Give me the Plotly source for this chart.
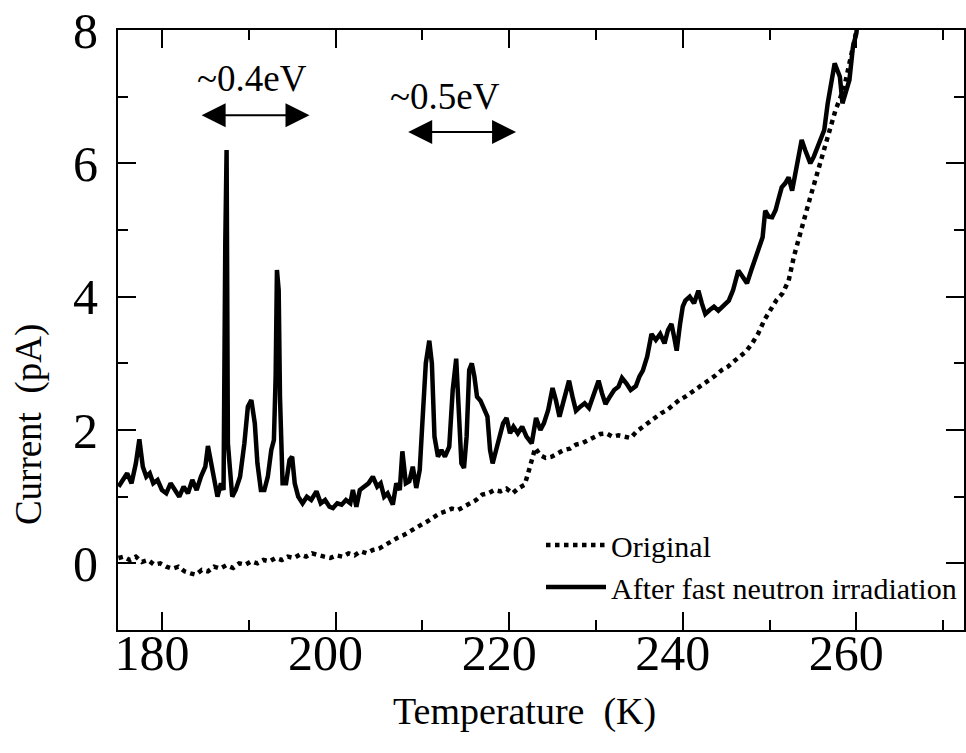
import plotly.graph_objects as go

# ---- data ----
after_T = [175.0, 175.5, 176.0, 176.5, 177.0, 177.4, 177.8, 178.2, 178.6, 179.0, 179.5, 180.0, 180.5, 181.0,
           181.5, 182.0, 182.5, 183.0, 183.5, 184.0, 184.5, 185.0, 185.3, 185.7, 186.0, 186.4, 186.8, 187.1,
           187.3, 187.45, 187.6, 187.8, 188.1, 188.5, 189.0, 189.5, 189.9, 190.3, 190.7, 191.0, 191.4, 191.8,
           192.2, 192.6, 192.9, 193.1, 193.25, 193.45, 193.6, 193.9, 194.3, 194.7, 195.0, 195.3, 195.7, 196.2,
           196.7, 197.2, 197.8, 198.3, 198.8, 199.3, 199.7, 200.2, 200.7, 201.2, 201.7, 202.0, 202.4, 202.8,
           203.3, 203.8, 204.3, 204.8, 205.2, 205.6, 206.0, 206.6, 207.0, 207.4, 207.7, 208.1, 208.5, 208.9,
           209.3, 209.7, 210.0, 210.4, 210.8, 211.1, 211.4, 211.8, 212.2, 212.6, 213.1, 213.5, 213.9, 214.2,
           214.5, 214.8, 215.1, 215.4, 215.7, 216.0, 216.3, 216.7, 217.1, 217.5, 217.8, 218.1, 218.5, 218.9,
           219.3, 219.7, 220.1, 220.5, 221.0, 221.5, 222.0, 222.6, 223.1, 223.6, 224.0, 224.5, 225.0, 225.4,
           225.8, 226.2, 226.6, 226.9, 227.3, 227.7, 228.2, 228.7, 229.2, 229.7, 230.3, 230.7, 231.1, 231.6,
           232.1, 232.6, 233.0, 233.5, 234.0, 234.6, 235.0, 235.4, 235.9, 236.4, 236.9, 237.4, 237.9, 238.3,
           238.7, 239.0, 239.3, 239.7, 240.0, 240.3, 240.8, 241.3, 241.8, 242.2, 242.6, 243.1, 243.6, 244.1,
           244.6, 245.3, 245.8, 246.4, 246.9, 247.4, 247.9, 248.4, 248.8, 249.2, 249.5, 249.9, 250.3, 250.7,
           251.0, 251.4, 251.8, 252.2, 252.6, 253.0, 253.4, 253.7, 254.1, 254.7, 255.1, 255.5, 255.9, 256.3,
           256.7, 257.1, 257.5, 257.8, 258.1, 258.4, 258.8, 259.2, 259.6, 260.0, 260.2]
after_I = [1.15, 1.25, 1.35, 1.2, 1.5, 1.86, 1.45, 1.3, 1.35, 1.2, 1.25, 1.1, 1.05, 1.2,
           1.1, 1.0, 1.15, 1.05, 1.25, 1.1, 1.3, 1.45, 1.76, 1.5, 1.3, 1.0, 1.2, 1.1,
           4.8, 6.2, 1.8, 1.5, 1.0, 1.1, 1.3, 1.8, 2.35, 2.45, 2.1, 1.5, 1.1, 1.1,
           1.3, 1.7, 1.85, 2.8, 4.4, 4.1, 2.5, 1.2, 1.2, 1.55, 1.6, 1.2, 1.0, 0.9,
           1.0, 0.95, 1.08, 0.9, 0.95, 0.85, 0.83, 0.9, 0.88, 0.95, 0.9, 1.1, 0.85, 1.1,
           1.15, 1.2, 1.3, 1.15, 1.2, 1.0, 1.05, 0.88, 1.2, 1.1, 1.68, 1.2, 1.23, 1.45,
           1.13, 1.4, 2.1, 3.0, 3.34, 3.0, 1.9, 1.6, 1.7, 1.6, 1.75, 2.6, 3.07, 2.4,
           1.5, 1.43, 1.9, 2.9, 3.0, 2.8, 2.5, 2.44, 2.3, 2.2, 1.7, 1.5, 1.7, 1.9,
           2.1, 2.18, 1.95, 2.05, 1.95, 2.05, 1.9, 1.8, 2.18, 2.0, 2.1, 2.3, 2.63, 2.44,
           2.2, 2.4, 2.6, 2.74, 2.5, 2.29, 2.35, 2.4, 2.33, 2.5, 2.74, 2.55, 2.39, 2.5,
           2.6, 2.65, 2.78, 2.7, 2.6, 2.66, 2.8, 2.89, 3.1, 3.44, 3.35, 3.44, 3.3, 3.5,
           3.59, 3.4, 3.19, 3.6, 3.85, 3.94, 4.0, 3.9, 4.09, 3.9, 3.74, 3.8, 3.85, 3.79,
           3.85, 3.94, 4.1, 4.39, 4.3, 4.2, 4.4, 4.59, 4.7, 4.89, 5.29, 5.2, 5.19, 5.3,
           5.45, 5.64, 5.7, 5.79, 5.59, 5.9, 6.2, 6.35, 6.2, 6.0, 6.1, 6.24, 6.35, 6.5,
           6.9, 7.25, 7.5, 7.4, 7.3, 6.9, 7.1, 7.25, 7.74, 7.95, 8.2]

orig_T = [175.0, 175.6, 176.3, 177.0, 177.7, 178.4, 179.1, 179.8, 180.5, 181.2, 181.9, 182.6, 183.3, 183.9,
          184.6, 185.3, 186.0, 186.7, 187.4, 188.2, 188.9, 189.6, 190.3, 191.0, 191.7, 192.4, 193.1, 193.8,
          194.5, 195.2, 195.9, 196.6, 197.3, 198.0, 198.7, 199.4, 200.1, 200.8, 201.5, 202.2, 202.9, 203.6,
          204.3, 205.0, 205.7, 206.4, 207.1, 207.8, 208.5, 209.2, 209.9, 210.6, 211.3, 212.0, 212.7, 213.4,
          214.1, 214.8, 215.5, 216.2, 216.9, 217.6, 218.3, 219.0, 219.7, 220.4, 221.1, 221.8, 222.4, 223.0,
          223.6, 224.2, 224.9, 225.6, 226.3, 227.0, 227.7, 228.4, 229.1, 229.8, 230.5, 231.2, 231.9, 232.6,
          233.3, 234.0, 234.7, 235.4, 236.1, 236.8, 237.5, 238.2, 238.9, 239.6, 240.3, 241.0, 241.7, 242.4,
          243.1, 243.8, 244.5, 245.2, 245.9, 246.6, 247.3, 248.0, 248.7, 249.4, 250.1, 250.8, 251.5, 252.2,
          252.8, 253.4, 254.0, 254.6, 255.2, 255.8, 256.4, 257.0, 257.6, 258.2, 258.7, 259.2, 259.7, 260.2]
orig_I = [0.08, 0.1, 0.05, 0.1, 0.02, 0.05, -0.02, 0.0, -0.05, -0.08, -0.05, -0.12, -0.15, -0.17,
          -0.1, -0.12, -0.05, -0.08, -0.03, -0.07, 0.0, -0.02, 0.03, 0.0, 0.05, 0.03, 0.08, 0.05,
          0.1, 0.08, 0.13, 0.1, 0.15, 0.12, 0.1, 0.08, 0.12, 0.1, 0.15, 0.12, 0.18, 0.15,
          0.2, 0.22, 0.28, 0.33, 0.38, 0.42, 0.48, 0.52, 0.58, 0.63, 0.7, 0.75, 0.78, 0.82,
          0.8, 0.85, 0.9, 0.95, 1.03, 1.05, 1.1, 1.08, 1.12, 1.05, 1.13, 1.18, 1.45, 1.73,
          1.62, 1.58, 1.6, 1.65, 1.7, 1.72, 1.78, 1.8, 1.85, 1.9, 1.94, 1.95, 1.9, 1.92,
          1.9, 1.88, 1.98, 2.05, 2.12, 2.18, 2.25, 2.3, 2.38, 2.45, 2.5, 2.56, 2.63, 2.7,
          2.75, 2.82, 2.9, 2.95, 3.03, 3.1, 3.18, 3.3, 3.45, 3.65, 3.8, 3.95, 4.05, 4.24,
          4.6, 4.9, 5.2, 5.45, 5.72, 6.0, 6.3, 6.55, 6.8, 7.0, 7.2, 7.5, 7.8, 8.1]

x_tickvals = [180, 200, 220, 240, 260]
y_tickvals = [0, 2, 4, 6, 8]

FONT = "Liberation Serif"

fig = go.Figure()
fig.add_trace(go.Scatter(x=orig_T, y=orig_I, mode="lines", name="Original",
                         line=dict(color="black", width=4.5, dash="dot")))
fig.add_trace(go.Scatter(x=after_T, y=after_I, mode="lines", name="After fast neutron irradiation",
                         line=dict(color="black", width=4.5)))

axis_common = dict(showline=True, linecolor="black", linewidth=2, mirror="ticks",
                   ticks="inside", tickcolor="black", tickwidth=2, ticklen=18,
                   showgrid=False, zeroline=False,
                   tickfont=dict(family=FONT, size=50, color="black"))

fig.update_xaxes(range=[174.94, 272.4], tickvals=x_tickvals,
                 minor=dict(dtick=10, tick0=170, ticks="inside", ticklen=10, tickwidth=2, tickcolor="black"),
                 ticklabelshift=-10, ticklabelstandoff=-22, **axis_common)
fig.update_yaxes(range=[-1, 8], tickvals=y_tickvals,
                 minor=dict(dtick=1, tick0=-1, ticks="inside", ticklen=10, tickwidth=2, tickcolor="black"),
                 ticklabelstandoff=8, **axis_common)

# arrows and labels
arrow_style = dict(showarrow=True, arrowside="end+start", arrowhead=2, arrowsize=2.4,
                   arrowwidth=2, arrowcolor="black", axref="x", ayref="y", text="")
fig.add_annotation(x=197.0, y=6.72, ax=184.4, ay=6.72, **arrow_style)
fig.add_annotation(x=220.8, y=6.47, ax=208.2, ay=6.47, **arrow_style)
fig.add_annotation(x=190.4, y=7.27, text="~0.4eV", showarrow=False,
                   font=dict(family=FONT, size=37, color="black"))
fig.add_annotation(x=212.6, y=7.0, text="~0.5eV", showarrow=False,
                   font=dict(family=FONT, size=37, color="black"))

# axis titles
fig.add_annotation(xref="paper", yref="paper", x=-0.106, y=0.342, xanchor="center", yanchor="middle",
                   text="Current  (pA)", textangle=-90,
                   showarrow=False, font=dict(family=FONT, size=37, color="black"))
fig.add_annotation(xref="paper", yref="paper", x=0.48, y=-0.135, xanchor="center", yanchor="middle",
                   text="Temperature  (K)",
                   showarrow=False, font=dict(family=FONT, size=38, color="black"))

fig.update_layout(
    width=966, height=753,
    margin=dict(l=118, r=0, t=30, b=123),
    paper_bgcolor="white", plot_bgcolor="white",
    showlegend=True,
    legend=dict(x=0.5, y=0.185, xanchor="left", yanchor="top", bgcolor="rgba(0,0,0,0)",
                font=dict(family=FONT, size=30, color="black"), itemwidth=60, tracegroupgap=0),
)

fig.write_html("out.html")
